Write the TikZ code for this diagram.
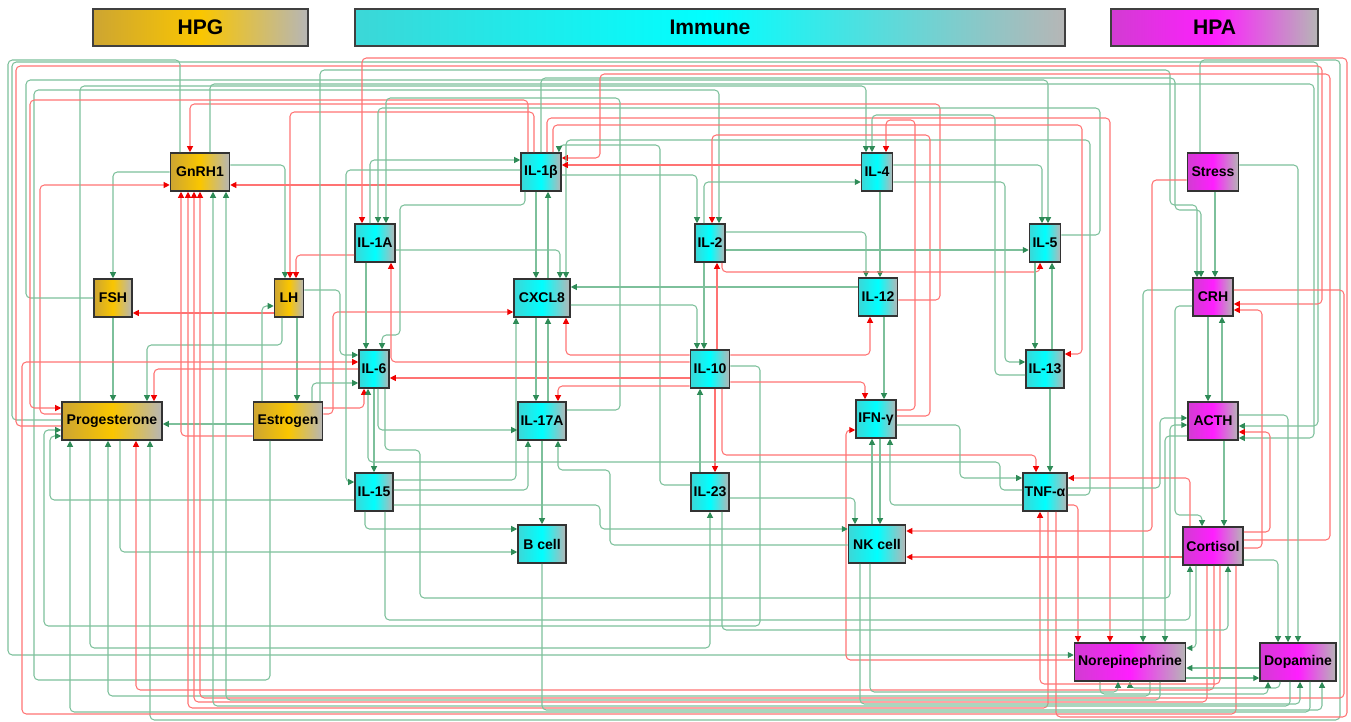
\documentclass[tikz,border=0pt]{standalone}
\usepackage{fontspec}
\setmainfont{Liberation Sans}
\usetikzlibrary{arrows.meta}
\definecolor{hpgleft}{RGB}{205,165,50}
\definecolor{hpgmid}{RGB}{250,198,0}
\definecolor{immleft}{RGB}{60,215,215}
\definecolor{immmid}{RGB}{0,255,255}
\definecolor{hpaleft}{RGB}{210,60,210}
\definecolor{hpamid}{RGB}{255,30,255}
\definecolor{endgray}{RGB}{182,182,182}
\definecolor{linkgreen}{RGB}{125,192,155}
\definecolor{tipgreen}{RGB}{46,139,87}
\definecolor{linkred}{RGB}{255,115,115}
\definecolor{tipred}{RGB}{240,0,0}
\begin{document}
\begin{tikzpicture}[
    x=0.02cm, y=-0.02cm,
    box_node/.style={draw=black!80, line width=0.9pt, minimum height=0.76cm, inner sep=1pt, font=\fontsize{8}{9}\selectfont\bfseries},
    hpg_node/.style={box_node, left color=hpgleft, right color=endgray, middle color=hpgmid},
    immune_node/.style={box_node, left color=immleft, right color=endgray, middle color=immmid},
    hpa_node/.style={box_node, left color=hpaleft, right color=endgray, middle color=hpamid},
    axis_bar/.style={draw=black!75, line width=0.8pt, minimum height=0.74cm, font=\fontsize{12}{14}\selectfont\bfseries},
    act_edge/.style={draw=linkgreen, line width=0.6pt, rounded corners=2.5pt, -{Triangle[length=3.4pt,width=3.4pt,color=tipgreen]}},
    inh_edge/.style={draw=linkred, line width=0.6pt, rounded corners=2.5pt, -{Triangle[length=3.4pt,width=3.4pt,color=tipred]}}
]
\useasboundingbox (0,0) rectangle (1351,722);

% 轴标题
\node[axis_bar, minimum width=4.3cm, left color=hpgleft, right color=endgray, middle color=hpgmid] (hpgbar) at (200.5,27.5) {HPG};
\node[axis_bar, minimum width=14.2cm, left color=immleft, right color=endgray, middle color=immmid] (immbar) at (710,27.5) {Immune};
\node[axis_bar, minimum width=4.14cm, left color=hpaleft, right color=endgray, middle color=hpamid] (hpabar) at (1214.5,27.5) {HPA};

% HPG 节点
\node[hpg_node, minimum width=1.18cm] (gnrh) at (200,172) {GnRH1};
\node[hpg_node, minimum width=0.76cm] (fsh) at (113,298) {FSH};
\node[hpg_node, minimum width=0.58cm] (lh) at (289,298) {LH};
\node[hpg_node, minimum width=2.0cm] (prog) at (112,421) {Progesterone};
\node[hpg_node, minimum width=1.38cm] (estr) at (288,421) {Estrogen};

% 免疫节点
\node[immune_node, minimum width=0.8cm] (il1b) at (541,172) {IL-1β};
\node[immune_node, minimum width=0.62cm] (il4) at (877,172) {IL-4};
\node[immune_node, minimum width=0.8cm] (il1a) at (375,243) {IL-1A};
\node[immune_node, minimum width=0.6cm] (il2) at (710,243) {IL-2};
\node[immune_node, minimum width=0.62cm] (il5) at (1045,243) {IL-5};
\node[immune_node, minimum width=1.12cm] (cxcl) at (542,298) {CXCL8};
\node[immune_node, minimum width=0.78cm] (il12) at (878,297) {IL-12};
\node[immune_node, minimum width=0.6cm] (il6) at (374,369) {IL-6};
\node[immune_node, minimum width=0.78cm] (il10) at (710,369) {IL-10};
\node[immune_node, minimum width=0.76cm] (il13) at (1045,369) {IL-13};
\node[immune_node, minimum width=0.96cm] (il17a) at (542,421) {IL-17A};
\node[immune_node, minimum width=0.8cm] (ifng) at (876,419) {IFN-γ};
\node[immune_node, minimum width=0.76cm] (il15) at (374,492) {IL-15};
\node[immune_node, minimum width=0.76cm] (il23) at (710,492) {IL-23};
\node[immune_node, minimum width=0.8cm] (tnfa) at (1045,492) {TNF-α};
\node[immune_node, minimum width=0.96cm] (bcell) at (542,544) {B cell};
\node[immune_node, minimum width=1.14cm] (nk) at (877,544) {NK cell};

% HPA 节点
\node[hpa_node, minimum width=1.02cm] (stress) at (1213,172) {Stress};
\node[hpa_node, minimum width=0.8cm] (crh) at (1213,297) {CRH};
\node[hpa_node, minimum width=1.0cm] (acth) at (1213,421) {ACTH};
\node[hpa_node, minimum width=1.2cm] (cort) at (1213,546) {Cortisol};
\node[hpa_node, minimum width=2.22cm] (nepi) at (1130,662) {Norepinephrine};
\node[hpa_node, minimum width=1.52cm] (dopa) at (1298,662) {Dopamine};

% HPG 轴内部
\draw[act_edge] (gnrh.west) -| (fsh.north);
\draw[act_edge] (gnrh.east |- 0,165) -| (lh.north -| 285,0);
\draw[act_edge] (fsh.south) -- (prog.north -| fsh.south);
\draw[act_edge] (lh.south -| 297,0) -- (estr.north -| 297,0);
\draw[act_edge] (estr.west |- 0,424) -- (prog.east |- 0,424);
\draw[inh_edge] (lh.west |- 0,313) -- (fsh.east |- 0,313);
\draw[act_edge] (estr.north -| 262,0) |- (lh.west |- 0,306);
\draw[inh_edge] (il1a.west |- 0,255) -| (lh.north -| 296,0);
\draw[inh_edge] (il1b.north -| 534,0) |- (290,112) -- (lh.north -| 290,0);
\draw[act_edge] (lh.south -| 282,0) |- (147,345) -- (prog.north -| 147,0);
\draw[inh_edge] (il6.west) -| (prog.north -| 154,0);
\draw[inh_edge] (estr.west |- 0,436) -| (gnrh.south -| 181,0);
\draw[inh_edge] (prog.west |- 0,414) -| (40,185) -- (gnrh.west |- 0,185);
\draw[inh_edge] (il1b.west |- 0,185) -- (gnrh.east |- 0,185);
\draw[act_edge] (estr.north -| 320,0) |- (1170,70) |- (1197,205) -- (crh.north -| 1197,0);
\draw[act_edge] (prog.south -| 120,0) |- (bcell.west |- 0,552);

% 雌激素到免疫
\draw[inh_edge] (estr.east |- 0,408) -| (il6.south -| 364,0);
\draw[inh_edge] (estr.east |- 0,414) -- (333,414) |- (cxcl.west |- 0,312);
\draw[act_edge] (estr.north -| 312,0) |- (il6.west |- 0,383);
\draw[act_edge] (lh.east |- 0,290) -| (340,355) -- (il6.west |- 0,355);
\draw[act_edge] (estr.south -| 270,0) |- (34,680) |- (719,90) -- (il2.north -| 719,0);

% 外环
\draw[act_edge] (prog.west |- 0,420) -| (12,62) -| (1318,426) -- (acth.east |- 0,426);
\draw[inh_edge] (prog.west |- 0,426) -| (16,66) -| (1322,304) -- (crh.east |- 0,304);
\draw[act_edge] (prog.north -| 80,0) |- (866,86) -- (il4.north -| 866,0);
\draw[act_edge] (prog.south -| 90,0) |- (710,648) -- (il23.south);
\draw[act_edge] (fsh.west) -| (26,80) -| (il5.north -| 1048,0);
\draw[act_edge] (gnrh.north -| 180,0) |- (8,60) |- (nepi.west |- 0,655);
\draw[act_edge] (stress.north -| 1200,0) |- (1340,60) |- (150,720) -- (prog.south -| 150,0);
\draw[inh_edge] (il12.east |- 0,300) -| (940,104) -| (gnrh.north -| 190,0);
\draw[act_edge] (il5.east |- 0,235) -| (1100,108) -| (il1a.north -| 378,0);
\draw[act_edge] (gnrh.north -| 210,0) |- (1314,84) |- (acth.east |- 0,438);
\draw[act_edge] (il23.west |- 0,485) -| (660,145) -| (il1b.north -| 559,0);

% 到孕酮
\draw[inh_edge] (il1b.north -| 528,0) |- (30,100) |- (prog.west |- 0,408);
\draw[act_edge] (il15.west |- 0,500) -| (50,436) -- (prog.west |- 0,436);
\draw[act_edge] (il10.east |- 0,366) -| (760,626) -| (44,430) -- (prog.west |- 0,430);
\draw[act_edge] (dopa.south -| 1310,0) |- (70,712) -- (prog.south -| 70,0);
\draw[act_edge] (nepi.south -| 1150,0) |- (108,696) -- (prog.south -| 108,0);
\draw[inh_edge] (cort.south -| 1214,0) |- (136,690) -- (prog.south -| 136,0);

% 到 GnRH1 下方
\draw[inh_edge] (cort.south -| 1207,0) |- (194,702) -- (gnrh.south -| 194,0);
\draw[inh_edge] (tnfa.south -| 1048,0) |- (188,708) -- (gnrh.south -| 188,0);
\draw[inh_edge] (crh.east |- 0,290) -| (1344,698) -| (gnrh.south -| 200,0);
\draw[act_edge] (dopa.south -| 1290,0) |- (213,706) -- (gnrh.south -| 213,0);
\draw[act_edge] (nepi.south -| 1160,0) |- (226,700) -- (gnrh.south -| 226,0);

% HPA 轴内部
\draw[act_edge] (stress.south -| 1215,0) -- (crh.north -| 1215,0);
\draw[act_edge] (il1b.north -| 541,0) |- (1175,78) |- (1201,210) -- (crh.north -| 1201,0);
\draw[act_edge] (crh.south -| 1208,0) -- (acth.north -| 1208,0);
\draw[act_edge] (acth.north -| 1222,0) -- (crh.south -| 1222,0);
\draw[act_edge] (acth.south -| 1224,0) -- (cort.north -| 1224,0);
\draw[act_edge] (crh.west |- 0,306) -| (1175,515) -| (cort.north -| 1202,0);
\draw[inh_edge] (cort.east |- 0,548) -- (1262,548) |- (crh.east |- 0,310);
\draw[inh_edge] (cort.east |- 0,532) -- (1270,532) |- (acth.east |- 0,432);
\draw[inh_edge] (cort.east |- 0,540) -| (1330,74) -| (600,158) -- (il1b.east |- 0,158);
\draw[act_edge] (cort.east |- 0,560) -| (dopa.north -| 1278,0);
\draw[act_edge] (acth.east |- 0,415) -| (dopa.north -| 1288,0);
\draw[act_edge] (stress.east |- 0,165) -| (dopa.north -| 1298,0);
\draw[act_edge] (cort.south -| 1196,0) |- (nepi.east |- 0,648);
\draw[act_edge] (dopa.west |- 0,668) -- (nepi.east |- 0,668);
\draw[act_edge] (nepi.east |- 0,678) -- (dopa.west |- 0,678);
\draw[act_edge] (dopa.south -| 1280,0) |- (1130,688) -- (nepi.south -| 1130,0);
\draw[act_edge] (nepi.south -| 1100,0) |- (1268,694) -- (dopa.south -| 1268,0);
\draw[act_edge] (acth.west |- 0,436) -| (nepi.north -| 1165,0);
\draw[act_edge] (crh.west |- 0,290) -| (nepi.north -| 1143,0);
\draw[inh_edge] (tnfa.east |- 0,505) -| (nepi.north -| 1078,0);
\draw[inh_edge] (il1b.north -| 547,0) |- (1110,118) -- (nepi.north -| 1110,0);

% HPA 与免疫
\draw[inh_edge] (cort.west |- 0,557) -- (nk.east |- 0,557);
\draw[inh_edge] (stress.west |- 0,180) -| (1152,520) |- (nk.east |- 0,531);
\draw[inh_edge] (cort.north -| 1190,0) |- (tnfa.east |- 0,478);
\draw[inh_edge] (cort.south -| 1220,0) |- (1040,684) -- (tnfa.south -| 1040,0);
\draw[inh_edge] (cort.south -| 1236,0) |- (22,714) |- (il6.west |- 0,362);
\draw[act_edge] (il6.south -| 385,0) |- (420,450) |- (1170,598) |- (acth.west |- 0,425);
\draw[act_edge] (tnfa.east |- 0,488) -| (1160,418) -- (acth.west |- 0,418);
\draw[inh_edge] (tnfa.south -| 1056,0) |- (1347,717) -- (1347,58) -| (il1a.north -| 362,0);
\draw[inh_edge] (nepi.west |- 0,660) -| (846,430) -- (ifng.west |- 0,430);
\draw[act_edge] (il15.south -| 385,0) |- (1190,620) -- (cort.south -| 1190,0);
\draw[act_edge] (il23.south -| 722,0) |- (1228,630) -- (cort.south -| 1228,0);
\draw[act_edge] (nk.south -| 860,0) |- (1300,704) -- (dopa.south -| 1300,0);
\draw[act_edge] (nk.south -| 870,0) |- (1118,692) -- (nepi.south -| 1118,0);
\draw[act_edge] (bcell.south) |- (1322,710) -- (dopa.south -| 1322,0);

% 免疫内部
\draw[act_edge] (il1a.south -| 366,0) -- (il6.north -| 366,0);
\draw[act_edge] (il1b.south -| 525,0) |- (400,205) |- (382,335) -- (il6.north -| 382,0);
\draw[act_edge] (il1a.north -| 370,0) |- (il1b.west |- 0,160);
\draw[act_edge] (il17a.east |- 0,410) -| (620,98) -| (il1a.north -| 386,0);
\draw[act_edge] (il1a.east |- 0,250) -| (cxcl.north -| 560,0);
\draw[inh_edge] (il10.west |- 0,362) -| (il1a.south -| 391,0);
\draw[act_edge] (il1b.west |- 0,170) -| (346,482) -- (il15.west |- 0,482);
\draw[act_edge] (il1b.south -| 536,0) -- (cxcl.north -| 536,0);
\draw[act_edge] (cxcl.north -| 548,0) -- (il1b.south -| 548,0);
\draw[act_edge] (il12.west |- 0,287) -- (cxcl.east |- 0,287);
\draw[act_edge] (tnfa.east |- 0,495) -| (1090,140) -| (cxcl.north -| 566,0);
\draw[inh_edge] (il4.west |- 0,165) -- (il1b.east |- 0,165);
\draw[act_edge] (il1b.east |- 0,175) -| (il2.north -| 697,0);
\draw[inh_edge] (ifng.east |- 0,416) -| (930,135) -| (il2.north -| 712,0);
\draw[act_edge] (il2.north -| 704,0) |- (il4.west |- 0,182);
\draw[act_edge] (il2.south -| 704,0) -- (il10.north -| 704,0);
\draw[inh_edge] (il10.north -| 717,0) -- (il2.south -| 717,0);
\draw[act_edge] (cxcl.east |- 0,305) -| (il10.north -| 697,0);
\draw[inh_edge] (il10.west |- 0,355) -| (cxcl.south -| 566,0);
\draw[inh_edge] (il10.east |- 0,355) -| (il12.south -| 870,0);
\draw[inh_edge] (il10.west |- 0,386) -| (il17a.north -| 558,0);
\draw[inh_edge] (il10.east |- 0,382) -| (ifng.north -| 865,0);
\draw[inh_edge] (il10.west |- 0,378) -- (il6.east |- 0,378);
\draw[act_edge] (il23.north -| 700,0) -- (il10.south -| 700,0);
\draw[inh_edge] (il10.south -| 715,0) -- (il23.north -| 715,0);
\draw[inh_edge] (il10.south -| 722,0) |- (1036,455) -- (tnfa.north -| 1036,0);
\draw[act_edge] (il15.east |- 0,480) -| (cxcl.south -| 516,0);
\draw[act_edge] (il17a.north -| 548,0) -- (cxcl.south -| 548,0);
\draw[act_edge] (cxcl.south -| 536,0) -- (il17a.north -| 536,0);
\draw[act_edge] (il6.south -| 378,0) |- (il17a.west |- 0,430);
\draw[act_edge] (il6.south -| 374,0) -- (il15.north -| 374,0);
\draw[act_edge] (tnfa.west |- 0,490) -| (1000,462) -| (il6.south -| 368,0);
\draw[act_edge] (il15.east |- 0,490) -| (il17a.south -| 528,0);
\draw[act_edge] (nk.west |- 0,545) -| (610,470) -| (il17a.south -| 558,0);
\draw[act_edge] (il17a.south -| 542,0) -- (bcell.north -| 542,0);
\draw[act_edge] (il15.south -| 365,0) |- (bcell.west |- 0,529);
\draw[act_edge] (il15.east |- 0,505) -| (600,529) -- (nk.west |- 0,529);
\draw[act_edge] (il23.east |- 0,498) -| (nk.north -| 855,0);
\draw[act_edge] (nk.north -| 872,0) -- (ifng.south -| 872,0);
\draw[act_edge] (ifng.south -| 880,0) -- (nk.north -| 880,0);
\draw[act_edge] (tnfa.west |- 0,505) -| (ifng.south -| 890,0);
\draw[act_edge] (il12.south -| 884,0) -- (ifng.north -| 884,0);
\draw[act_edge] (il4.south -| 880,0) -- (il12.north -| 880,0);
\draw[act_edge] (il2.east |- 0,232) -| (il12.north -| 866,0);
\draw[act_edge] (il2.east |- 0,250) -- (il5.west |- 0,250);
\draw[act_edge] (il4.east |- 0,165) -| (il5.north -| 1042,0);
\draw[inh_edge] (il2.south -| 722,0) |- (1040,272) -- (il5.south -| 1040,0);
\draw[act_edge] (il13.north -| 1052,0) -- (il5.south -| 1052,0);
\draw[act_edge] (il5.south -| 1035,0) -- (il13.north -| 1035,0);
\draw[act_edge] (il4.east |- 0,182) -| (1005,362) -- (il13.west |- 0,362);
\draw[act_edge] (il13.west |- 0,375) -| (995,115) -| (il4.north -| 872,0);
\draw[inh_edge] (il1b.north -| 553,0) |- (1082,125) |- (il13.east |- 0,354);
\draw[act_edge] (il13.south -| 1050,0) -- (tnfa.north -| 1050,0);
\draw[act_edge] (ifng.east |- 0,425) -| (960,478) -- (tnfa.west |- 0,478);
\draw[inh_edge] (ifng.east |- 0,410) -| (915,120) -| (il4.north -| 886,0);

\end{tikzpicture}
\end{document}
